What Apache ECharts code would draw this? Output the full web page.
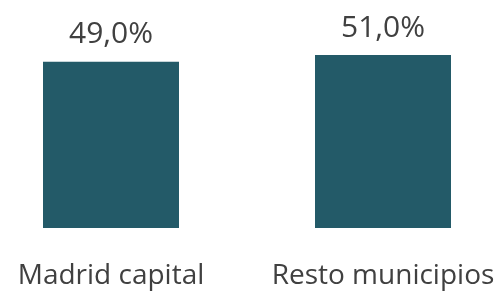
<!DOCTYPE html>
<html>
<head>
<meta charset="utf-8">
<script src="https://cdn.jsdelivr.net/npm/echarts@6/dist/echarts.min.js"></script>
<style>
  html, body { margin: 0; padding: 0; background: #fff; overflow: hidden; }
  #chart { position: absolute; left: -25px; top: 0; width: 544px; height: 294px; }
</style>
</head>
<body>
<div id="chart"></div>
<script>
// datos
var categories = ['Madrid capital', 'Resto municipios'];
var values = [49.0, 51.0];

var chart = echarts.init(document.getElementById('chart'));
chart.setOption({
  animation: false,
  grid: { left: 0, right: 0, top: 55, bottom: 66 },
  xAxis: {
    type: 'category',
    data: categories,
    axisLine: { show: false },
    axisTick: { show: false },
    axisLabel: {
      interval: 0,
      hideOverlap: false,
      margin: 34,
      fontFamily: 'Open Sans',
      fontSize: 28,
      color: '#404040'
    }
  },
  yAxis: {
    type: 'value',
    min: 0,
    max: 51,
    show: false
  },
  series: [{
    type: 'bar',
    data: values,
    barWidth: 136,
    itemStyle: { color: '#235a68' },
    label: {
      show: true,
      position: 'top',
      distance: 12,
      fontFamily: 'Open Sans',
      fontSize: 30,
      color: '#404040',
      formatter: function (p) {
        return p.value.toFixed(1).replace('.', ',') + '%';
      }
    }
  }]
});
</script>
</body>
</html>
